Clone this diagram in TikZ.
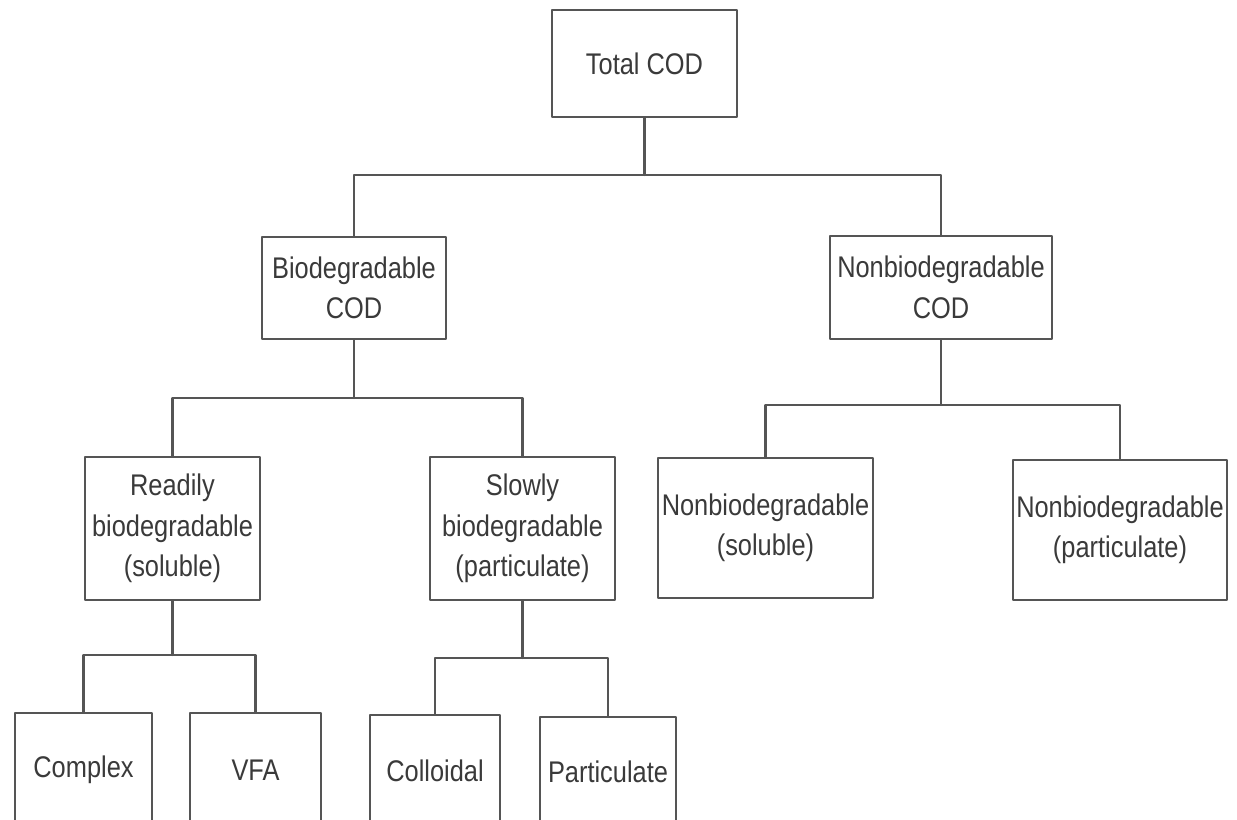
\documentclass[tikz,border=0pt]{standalone}
\usepackage{fontspec}
\setmainfont[FakeStretch=0.85]{Liberation Sans}
\usetikzlibrary{calc,positioning}
\definecolor{LineGray}{HTML}{555555}
\definecolor{TextGray}{HTML}{3A3A3A}

\begin{document}
\begin{tikzpicture}[x=0.02cm,y=-0.02cm,line cap=round,line join=round,
  codbox/.style={draw=LineGray,line width=1.4pt,align=center,text=TextGray,inner sep=0pt,
    font=\fontsize{17}{23}\selectfont},
  link/.style={LineGray,line width=1.3pt}]
  \useasboundingbox (0,0) rectangle (1237,819);
  \clip (0,0) rectangle (1237,819);
  \fill[white] (0,0) rectangle (1237,819);
  % boxes
  \node[codbox,minimum width=3.7cm,minimum height=2.14cm] (total) at (644.5,63.5) {Total COD};
  \node[codbox,minimum width=3.68cm,minimum height=2.04cm] (bio) at (354,288) {Biodegradable\\COD};
  \node[codbox,minimum width=4.44cm,minimum height=2.06cm] (nonbio) at (941,287.5) {Nonbiodegradable\\COD};
  \node[codbox,minimum width=3.5cm,minimum height=2.86cm] (readily) at (172.5,528.5) {Readily\\biodegradable\\(soluble)};
  \node[codbox,minimum width=3.7cm,minimum height=2.86cm] (slowly) at (522.5,528.5) {Slowly\\biodegradable\\(particulate)};
  \node[codbox,minimum width=4.3cm,minimum height=2.8cm] (nbsol) at (765.5,528) {Nonbiodegradable\\(soluble)};
  \node[codbox,minimum width=4.28cm,minimum height=2.8cm] (nbpart) at (1120,530) {Nonbiodegradable\\(particulate)};
  \node[codbox,minimum width=2.74cm,minimum height=2.28cm] (complex) at (83.5,770) {Complex};
  \node[codbox,minimum width=2.62cm,minimum height=2.28cm] (vfa) at (255.5,770) {VFA};
  \node[codbox,minimum width=2.6cm,minimum height=2.24cm] (colloidal) at (435,771) {Colloidal};
  \node[codbox,minimum width=2.72cm,minimum height=2.2cm] (partic) at (608,772) {Particulate};
  % junctions
  \coordinate (j1) at (644.5,175);\coordinate (j2) at (354,398);\coordinate (j3) at (941,405);
  \coordinate (j4) at (172.5,655);\coordinate (j5) at (522.5,658);
  % connectors
  \draw[link] (total.south) -- (j1);\draw[link] (bio.north) |- (j1) -| (nonbio.north);
  \draw[link] (bio.south) -- (j2);\draw[link] (readily.north) |- (j2) -| (slowly.north);
  \draw[link] (nonbio.south) -- (j3);\draw[link] (nbsol.north) |- (j3) -| (nbpart.north);
  \draw[link] (readily.south) -- (j4);\draw[link] (complex.north) |- (j4) -| (vfa.north);
  \draw[link] (slowly.south) -- (j5);\draw[link] (colloidal.north) |- (j5) -| (partic.north);
\end{tikzpicture}
\end{document}
